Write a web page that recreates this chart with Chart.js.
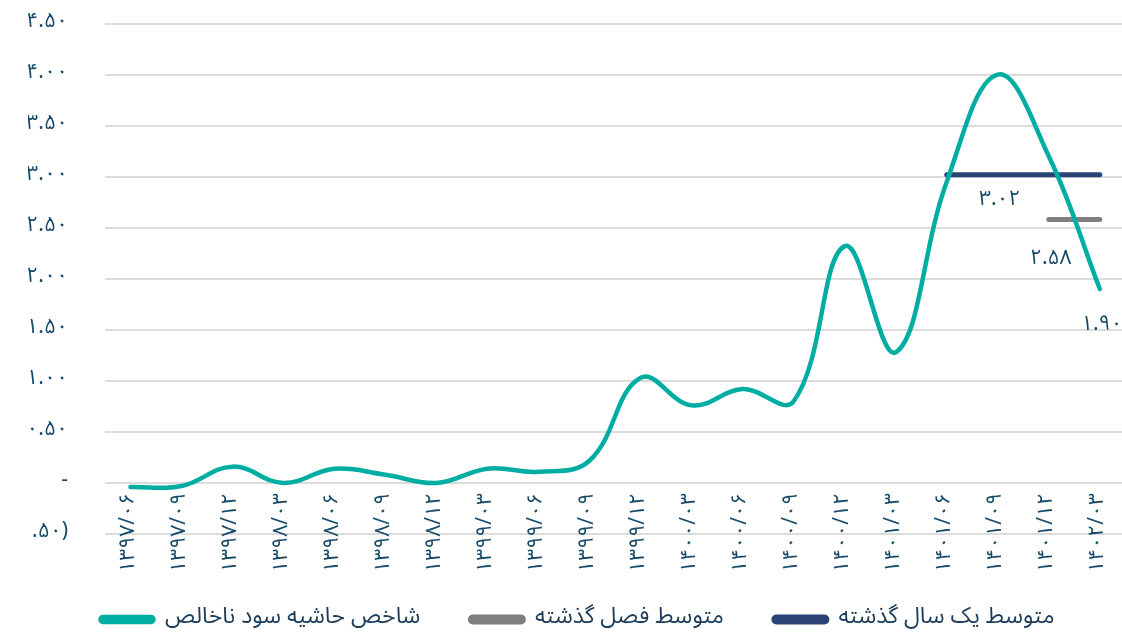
<!DOCTYPE html>
<html>
<head>
<meta charset="utf-8">
<script src="https://cdn.jsdelivr.net/npm/chart.js@4"></script>
<style>
  html, body { margin: 0; background: #fff; overflow: hidden; }
  canvas { display: block; }
</style>
</head>
<body>
<!-- canvas is a few px wider than the window so the last category sits where the reference has it -->
<canvas id="marginChart" width="1127" height="635"></canvas>
<script>
// Data
const categories = ['1397/06', '1397/09', '1397/12', '1398/03', '1398/06', '1398/09', '1398/12',
    '1399/03', '1399/06', '1399/09', '1399/12', '1400/03', '1400/06', '1400/09', '1400/12',
    '1401/03', '1401/06', '1401/09', '1401/12', '1402/03'];
const grossMargin = [-0.04, -0.03, 0.16, 0.0, 0.14, 0.08, 0.0, 0.14, 0.11, 0.22, 1.03, 0.76,
    0.92, 0.80, 2.32, 1.28, 2.95, 4.0, 3.2, 1.90];
const quarterAvg = [null, null, null, null, null, null, null, null, null, null, null, null,
    null, null, null, null, null, null, 2.58, 2.58];
const yearAvg = [null, null, null, null, null, null, null, null, null, null, null, null,
    null, null, null, null, 3.02, 3.02, 3.02, 3.02];
const seriesNames = ['شاخص حاشیه سود ناخالص', 'متوسط فصل گذشته', 'متوسط یک سال گذشته'];
// index of the point that carries a value label, per series
const labelAt = [19, 18, 17];

const faDigits = '۰۱۲۳۴۵۶۷۸۹';
function toFa(s) {
    return String(s).replace(/[0-9]/g, d => faDigits[d]);
}

function formatTick(v) {
    if (Math.abs(v) < 1e-9) return '-';
    if (v < 0) return '(' + toFa(Math.abs(v).toFixed(2)) + ')';
    return toFa(v.toFixed(2));
}

const fontFamily = "'Noto Sans Arabic', 'Noto Naskh Arabic', 'DejaVu Sans', sans-serif";
const tickColor = '#174a68';

// Draws the single value label under the chosen point of each line
const valueLabels = {
    id: 'valueLabels',
    afterDatasetsDraw(chart) {
        const ctx = chart.ctx;
        const offsets = [38, 41, 27];
        ctx.save();
        ctx.font = '21px ' + fontFamily;
        ctx.fillStyle = tickColor;
        ctx.textAlign = 'center';
        ctx.textBaseline = 'middle';
        chart.data.datasets.forEach((ds, i) => {
            const meta = chart.getDatasetMeta(i);
            const idx = labelAt[i];
            const pt = meta.data[idx];
            if (!pt || ds.data[idx] == null) return;
            ctx.fillText(toFa(ds.data[idx].toFixed(2)), pt.x + 2, pt.y + offsets[i]);
        });
        ctx.restore();
    }
};

const ctx = document.getElementById('marginChart').getContext('2d');
new Chart(ctx, {
    type: 'line',
    data: {
        labels: categories.map(toFa),
        datasets: [{
            label: seriesNames[0],
            data: grossMargin,
            borderColor: '#00ada3',
            backgroundColor: '#00ada3',
            borderWidth: 4.5,
            tension: 0.4,
            pointRadius: 0,
            borderCapStyle: 'round'
        }, {
            label: seriesNames[1],
            data: quarterAvg,
            borderColor: '#7f7f7f',
            backgroundColor: '#7f7f7f',
            borderWidth: 5,
            pointRadius: 0,
            borderCapStyle: 'round'
        }, {
            label: seriesNames[2],
            data: yearAvg,
            borderColor: '#2a4478',
            backgroundColor: '#2a4478',
            borderWidth: 5,
            pointRadius: 0,
            borderCapStyle: 'round'
        }]
    },
    options: {
        responsive: false,
        animation: false,
        devicePixelRatio: 1,
        layout: {
            padding: { top: 0, left: 28, right: 0, bottom: -6 }
        },
        plugins: {
            tooltip: { enabled: false },
            legend: {
                position: 'bottom',
                title: {
                    display: true,
                    text: '',
                    font: { size: 10 },
                    padding: { top: 12, bottom: 0 }
                },
                labels: {
                    boxWidth: 53,
                    boxHeight: 5,
                    useBorderRadius: true,
                    borderRadius: 2.5,
                    padding: 50,
                    color: '#1c3d5a',
                    font: { family: fontFamily, size: 23 }
                }
            }
        },
        scales: {
            x: {
                position: { y: 0 },
                offset: true,
                grid: { display: false, drawTicks: true, tickLength: 8 },
                border: { display: false },
                ticks: {
                    autoSkip: false,
                    minRotation: 90,
                    maxRotation: 90,
                    padding: 2,
                    color: tickColor,
                    font: { family: fontFamily, size: 21 }
                }
            },
            y: {
                min: -0.5,
                max: 4.5,
                afterFit(scale) { scale.width = 77; },
                grid: {
                    color: '#dcdcdc',
                    lineWidth: 2,
                    drawTicks: true,
                    tickLength: 26,
                    tickColor: 'rgba(0,0,0,0)'
                },
                border: { display: false },
                ticks: {
                    stepSize: 0.5,
                    padding: 11,
                    color: tickColor,
                    font: { family: fontFamily, size: 21 },
                    callback: formatTick
                }
            }
        }
    },
    plugins: [valueLabels]
});
</script>
</body>
</html>
